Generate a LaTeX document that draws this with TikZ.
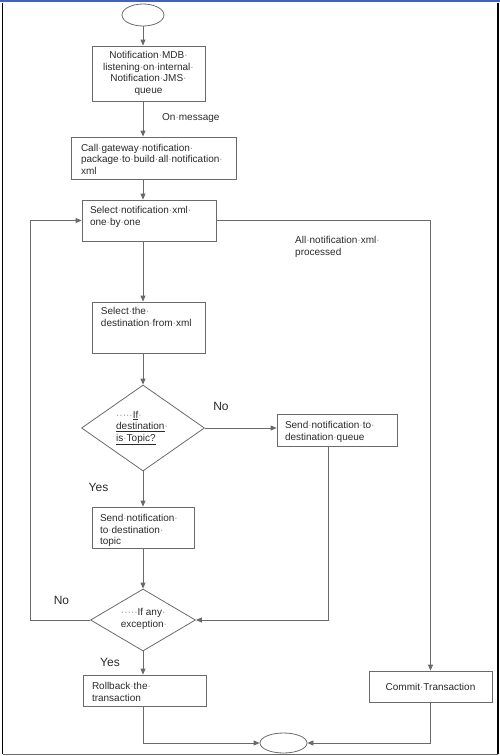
\documentclass[tikz,border=0pt]{standalone}
\usepackage{fontspec}
\setmainfont{Liberation Sans}
\usetikzlibrary{shapes.geometric,arrows.meta}
\definecolor{ln}{HTML}{6A6A6A}
\definecolor{txt}{HTML}{2A2A2A}
\definecolor{dotc}{HTML}{8A8A8A}
\definecolor{frameblue}{HTML}{3E63C8}
\newcommand\mydot{{\color{dotc}·}}
\newcommand\tb[5]{\parbox[c][#2][t]{#1}{\raggedright\leftskip=#3\relax\vspace*{#4}\strut #5}}
\begin{document}
\begin{tikzpicture}[x=1pt,y=-1pt,
  every node/.style={font=\fontsize{10}{11.5}\selectfont, text=txt},
  box/.style={draw=ln, line width=0.8pt, inner sep=0pt, fill=white},
  cbox/.style={box, align=center},
  dia/.style={diamond, draw=ln, line width=0.8pt, inner sep=0pt, aspect=1},
  term/.style={ellipse, draw=ln, line width=0.8pt, inner sep=0pt},
  arr/.style={draw=ln, line width=0.8pt, -{Triangle[length=6pt,width=5pt]}},
  lbl/.style={inner sep=0pt},
  yn/.style={inner sep=0pt, font=\fontsize{12}{14}\selectfont}]
\useasboundingbox (0,0) rectangle (500,756);
% frame
\draw[frameblue, line width=2.5pt] (0,1.2) -- (500,1.2);
\draw[black, line width=1.6pt] (2.5,2.5) -- (2.5,754);
\draw[black, line width=2pt] (498,2.5) -- (498,754);
\draw[ln, line width=1pt] (2.5,754) -- (498,754);

\coordinate (sp) at (143,0);
\coordinate (qx) at (328,0);
\coordinate (lx) at (30,0);

\node[term, minimum width=42pt, minimum height=22pt] (start) at (143,15) {};
\node[cbox, minimum width=113pt, minimum height=55pt] (b1) at (148.5,73.5)
  {Notification\mydot MDB\mydot\\listening\mydot on\mydot internal\mydot\\Notification\mydot JMS\mydot\\queue};
\node[box] (b2) at (153.5,158)
  {\tb{165pt}{42pt}{10pt}{6pt}{Call\mydot gateway\mydot notification\mydot\\package\mydot to\mydot build\mydot all\mydot notification\mydot\\xml}};
\node[box] (b3) at (149,220.5)
  {\tb{134pt}{41pt}{8pt}{5.5pt}{Select\mydot notification\mydot xml\mydot\\one\mydot by\mydot one}};
\node[box] (b4) at (148.5,327.5)
  {\tb{113pt}{51pt}{9pt}{4.5pt}{Select\mydot the\mydot\\destination\mydot from\mydot xml}};
\node[dia, minimum width=123pt, minimum height=86pt] (d1) at (143,428) {};
\node[lbl, align=left] (d1t) at (142,428)
  {\mydot\mydot\mydot\mydot\mydot\underline{If}\mydot\\\underline{destination}\mydot\\\underline{is\mydot Topic?}};
\node[box] (b5) at (337,430)
  {\tb{120pt}{32pt}{8pt}{6.5pt}{Send\mydot notification\mydot to\mydot\\destination\mydot queue}};
\node[box] (b6) at (143,527.5)
  {\tb{102pt}{41pt}{8pt}{6.5pt}{Send\mydot notification\mydot\\to\mydot destination\mydot\\topic}};
\node[dia, minimum width=105pt, minimum height=62pt] (d2) at (143,620) {};
\node[lbl, align=left] (d2t) at (144,619)
  {\mydot\mydot\mydot\mydot\mydot If any\mydot\\exception\mydot};
\node[box] (b7) at (144.5,690.5)
  {\tb{123pt}{31pt}{9pt}{6.5pt}{Rollback\mydot the\mydot\\transaction}};
\node[cbox, minimum width=123pt, minimum height=31pt] (cm) at (430.5,686.5) {Commit\mydot Transaction};
\node[term, minimum width=47pt, minimum height=20pt] (end) at (283.5,743) {};

% labels
\node[lbl, anchor=west] (onmsg) at (162,118) {On\mydot message};
\node[lbl, anchor=west, align=left] (allx) at (295,247) {All\mydot notification\mydot xml\mydot\\processed};
\node[yn] (no1) at (221,406) {No};
\node[yn] (yes1) at (98.5,487) {Yes};
\node[yn] (no2) at (61.5,600) {No};
\node[yn] (yes2) at (110,662) {Yes};

% connectors
\draw[arr] (start.south -| sp) -- (b1.north -| sp);
\draw[arr] (b1.south -| sp) -- (b2.north -| sp);
\draw[arr] (b2.south -| sp) -- (b3.north -| sp);
\draw[arr] (b3.south -| sp) -- (b4.north -| sp);
\draw[arr] (b4.south -| sp) -- (d1.north);
\draw[arr] (d1.east) -- (b5.west |- d1.east);
\draw[arr] (d1.south) -- (b6.north -| sp);
\draw[arr] (b6.south -| sp) -- (d2.north);
\draw[arr] (b5.south -| qx) |- (d2.east);
\draw[arr] (d2.west) -- (lx |- d2.west) -- (lx |- b3.west) -- (b3.west);
\draw[arr] (d2.south) -- (b7.north -| sp);
\draw[arr] (b7.south -| sp) |- (end.west);
\draw[arr] (b3.east) -| (cm.north);
\draw[arr] (cm.south) |- (end.east);
\end{tikzpicture}
\end{document}
